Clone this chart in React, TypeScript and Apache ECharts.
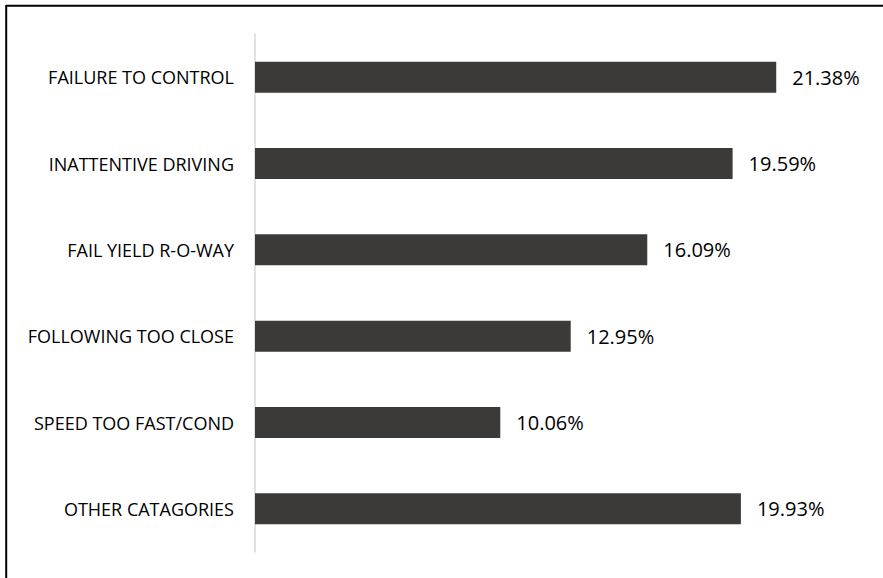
import React, { useEffect, useRef } from "react";
import * as echarts from "echarts";

const categories = [
  "FAILURE TO CONTROL",
  "INATTENTIVE DRIVING",
  "FAIL YIELD R-O-WAY",
  "FOLLOWING TOO CLOSE",
  "SPEED TOO FAST/COND",
  "OTHER CATAGORIES",
];
const values = [21.38, 19.59, 16.09, 12.95, 10.06, 19.93];

const FONT = "'Open Sans', 'Liberation Sans', sans-serif";

export default function App() {
  const ref = useRef<HTMLDivElement>(null);
  useEffect(() => {
    if (!ref.current) return;
    const chart = echarts.init(ref.current, undefined, { renderer: "svg" });
    chart.setOption({
      animation: false,
      backgroundColor: "#ffffff",
      grid: { left: 255, right: 18.5, top: 34, bottom: 26, containLabel: false },
      xAxis: {
        type: "value",
        min: 0,
        max: 25,
        show: false,
      },
      yAxis: {
        type: "category",
        data: categories,
        inverse: true,
        axisLine: { show: true, lineStyle: { color: "#d9d9d9", width: 1.5 } },
        axisTick: { show: false },
        axisLabel: {
          color: "#000000",
          fontFamily: FONT,
          fontSize: 18,
          margin: 21,
        },
        splitLine: { show: false },
      },
      series: [
        {
          type: "bar",
          data: values,
          barWidth: 31,
          itemStyle: { color: "#3b3a39" },
          label: {
            show: true,
            position: "right",
            distance: 16,
            color: "#000000",
            fontFamily: FONT,
            fontSize: 20,
            formatter: (p: any) => p.value.toFixed(2) + "%",
          },
        },
      ],
      graphic: [
        { type: "line", shape: { x1: 6, y1: 5.7, x2: 883, y2: 5.7 }, style: { stroke: "#000", lineWidth: 2 } },
        { type: "line", shape: { x1: 6.2, y1: 5, x2: 6.2, y2: 578 }, style: { stroke: "#000", lineWidth: 2 } },
      ],
    });
    return () => chart.dispose();
  }, []);
  return (
    <div
      ref={ref}
      style={{ position: "fixed", left: 0, top: 0, width: 883, height: 578 }}
    />
  );
}
